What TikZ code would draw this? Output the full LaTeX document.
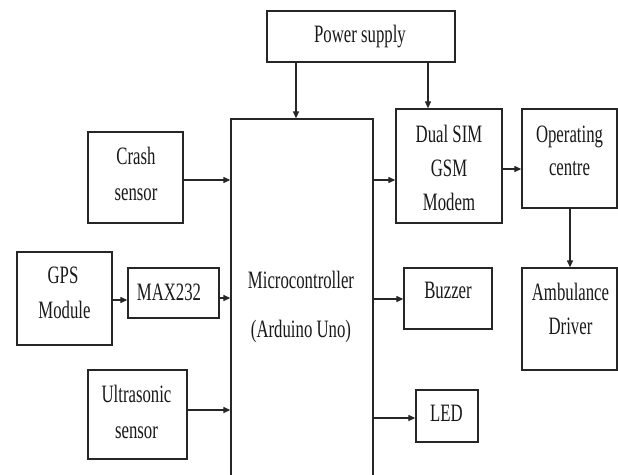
\documentclass[tikz,border=0pt]{standalone}
\usepackage{fontspec}
\setmainfont{Liberation Serif}
\usepackage{graphicx}
\usetikzlibrary{arrows.meta}
\newcommand{\hs}[1]{\scalebox{0.67}[1]{#1}}
\tikzset{
  box/.style={draw=black!85, line width=1.3pt, inner sep=0pt, rectangle},
  arr/.style={draw=black!85, line width=1.2pt, -{Triangle[length=7pt,width=6pt]}},
  txt/.style={anchor=base, inner sep=0pt, text=black!90, font=\fontsize{25}{30}\selectfont}
}
\begin{document}
\begin{tikzpicture}[x=1pt,y=-1pt]
\clip (0,0) rectangle (618,474);
\fill[white] (0,0) rectangle (618,474);
% boxes
\node[box, minimum width=188pt, minimum height=51pt] (power) at (361,36.5) {};
\node[box, minimum width=142pt, minimum height=381pt] (micro) at (302,309.5) {};
\node[box, minimum width=95pt, minimum height=91pt] (crash) at (135.5,177.5) {};
\node[box, minimum width=95pt, minimum height=93pt] (gps) at (64.5,298.5) {};
\node[box, minimum width=91pt, minimum height=50pt] (max) at (173.5,293) {};
\node[box, minimum width=99pt, minimum height=89pt] (ultra) at (137.5,414.5) {};
\node[box, minimum width=106pt, minimum height=114pt] (gsm) at (449,166) {};
\node[box, minimum width=95pt, minimum height=99pt] (op) at (569.5,158.5) {};
\node[box, minimum width=95pt, minimum height=102pt] (amb) at (569.5,319) {};
\node[box, minimum width=88pt, minimum height=61pt] (buzzer) at (448,298.5) {};
\node[box, minimum width=62pt, minimum height=52pt] (led) at (447,416) {};
% texts
\node[txt] (tpower) at (360,42) {\hs{Power supply}};
\node[txt] (tcrash1) at (136,164) {\hs{Crash}};
\node[txt] (tcrash2) at (136,200) {\hs{sensor}};
\node[txt] (tgps1) at (63,283) {\hs{GPS}};
\node[txt] (tgps2) at (64.5,318) {\hs{Module}};
\node[txt] (tmax) at (169,300) {\hs{MAX232}};
\node[txt] (tultra1) at (136.5,402) {\hs{Ultrasonic}};
\node[txt] (tultra2) at (136.5,438) {\hs{sensor}};
\node[txt] (tmicro1) at (301,288) {\hs{Microcontroller}};
\node[txt] (tmicro2) at (301,337) {\hs{(Arduino Uno)}};
\node[txt] (tgsm1) at (449,142) {\hs{Dual SIM}};
\node[txt] (tgsm2) at (449,176) {\hs{GSM}};
\node[txt] (tgsm3) at (449,210) {\hs{Modem}};
\node[txt] (top1) at (569.5,142) {\hs{Operating}};
\node[txt] (top2) at (569.5,175) {\hs{centre}};
\node[txt] (tbuzz) at (448,298) {\hs{Buzzer}};
\node[txt] (tamb1) at (570.5,300) {\hs{Ambulance}};
\node[txt] (tamb2) at (570.5,334) {\hs{Driver}};
\node[txt] (tled) at (446.5,421) {\hs{LED}};
% connector levels
\coordinate (xp1) at (296,0);
\coordinate (xp2) at (428,0);
\coordinate (xop) at (570,0);
\coordinate (ycr) at (0,180);
\coordinate (ygps) at (0,300);
\coordinate (ymax) at (0,298);
\coordinate (yus) at (0,410);
\coordinate (ygsm) at (0,180);
\coordinate (yop) at (0,169);
\coordinate (ybz) at (0,299);
\coordinate (yled) at (0,418);
% connectors
\draw[arr] (power.south -| xp1) -- (micro.north -| xp1);
\draw[arr] (power.south -| xp2) -- (gsm.north -| xp2);
\draw[arr] (crash.east |- ycr) -- (micro.west |- ycr);
\draw[arr] (gps.east |- ygps) -- (max.west |- ygps);
\draw[arr] (max.east |- ymax) -- (micro.west |- ymax);
\draw[arr] (ultra.east |- yus) -- (micro.west |- yus);
\draw[arr] (micro.east |- ygsm) -- (gsm.west |- ygsm);
\draw[arr] (gsm.east |- yop) -- (op.west |- yop);
\draw[arr] (op.south -| xop) -- (amb.north -| xop);
\draw[arr] (micro.east |- ybz) -- (buzzer.west |- ybz);
\draw[arr] (micro.east |- yled) -- (led.west |- yled);
\end{tikzpicture}
\end{document}
